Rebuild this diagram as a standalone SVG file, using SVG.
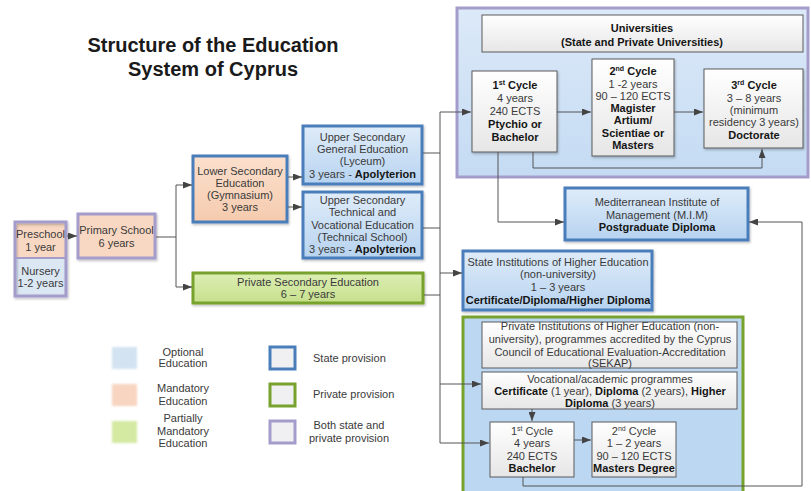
<svg xmlns="http://www.w3.org/2000/svg" width="811" height="491" viewBox="0 0 811 491">
<defs>
<style>
text{font-family:"Liberation Sans",Arial,sans-serif;font-size:11px;fill:#3a3a3a;text-anchor:middle}
.b{font-weight:bold;fill:#151515}
.title{font-size:20px;font-weight:bold;fill:#1a1a1a}
.l{text-anchor:start}
.state{stroke:#4a7ebb;stroke-width:3;fill:url(#gBlue)}
.peachS{stroke:#4a7ebb;stroke-width:3;fill:url(#gPeach)}
.purp{stroke:#a49ccb;stroke-width:3}
.white{stroke:#5a5a5a;stroke-width:1;fill:url(#gWhite)}
.conn path{fill:none;stroke:#555;stroke-width:1}
.arr{marker-end:url(#ah)}
.sh{filter:url(#ds)}
</style>
<linearGradient id="gBlue" x1="0" y1="0" x2="0" y2="1"><stop offset="0" stop-color="#dfecf9"/><stop offset="1" stop-color="#b7d3f0"/></linearGradient>
<linearGradient id="gPeach" x1="0" y1="0" x2="0" y2="1"><stop offset="0" stop-color="#fbe0cd"/><stop offset="1" stop-color="#f5cbae"/></linearGradient>
<linearGradient id="gGreen" x1="0" y1="0" x2="0" y2="1"><stop offset="0" stop-color="#ddeeb4"/><stop offset="1" stop-color="#c6e08c"/></linearGradient>
<linearGradient id="gWhite" x1="0" y1="0" x2="0" y2="1"><stop offset="0" stop-color="#ffffff"/><stop offset="1" stop-color="#e6e6e6"/></linearGradient>
<linearGradient id="gUni" x1="0" y1="0" x2="0" y2="1"><stop offset="0" stop-color="#dce9f8"/><stop offset="1" stop-color="#c4dbf3"/></linearGradient>
<filter id="ds" x="-10%" y="-10%" width="130%" height="130%"><feDropShadow dx="1" dy="1.5" stdDeviation="1.2" flood-color="#000" flood-opacity="0.25"/></filter>
<filter id="soft" x="-20%" y="-20%" width="140%" height="140%"><feGaussianBlur stdDeviation="0.8"/></filter>
<marker id="ah" markerUnits="userSpaceOnUse" markerWidth="9" markerHeight="7" refX="9" refY="3.5" orient="auto"><path d="M0,0 L9,3.5 L0,7 z" fill="#444"/></marker>
</defs>
<rect width="811" height="491" fill="#ffffff"/>

<g id="title">
<text class="title" x="213" y="52">Structure of the Education</text>
<text class="title" x="213" y="76">System of Cyprus</text>
</g>

<g id="universities">
<rect x="457" y="8" width="351" height="169" fill="url(#gUni)" class="purp"/>
<rect x="482" y="15" width="321" height="37" class="white"/>
<text class="b" x="642" y="32">Universities</text>
<text class="b" x="642" y="46">(State and Private Universities)</text>
</g>

<g id="uni-cycle1">
<rect x="472" y="71" width="85" height="81" class="white sh"/>
<text class="b" x="515" y="89">1<tspan font-size="7" dy="-4">st</tspan><tspan dy="4"> Cycle</tspan></text>
<text x="515" y="102">4 years</text>
<text x="515" y="115">240 ECTS</text>
<text class="b" x="515" y="127.5">Ptychio or</text>
<text class="b" x="515" y="140.5">Bachelor</text>
</g>

<g id="uni-cycle2">
<rect x="592" y="59" width="82" height="97" class="white sh"/>
<text class="b" x="633" y="75">2<tspan font-size="7" dy="-4">nd</tspan><tspan dy="4"> Cycle</tspan></text>
<text x="633" y="87.5">1 -2 years</text>
<text x="633" y="99.5">90 – 120 ECTS</text>
<text class="b" x="633" y="111.5">Magister</text>
<text class="b" x="633" y="124">Artium/</text>
<text class="b" x="633" y="136.5">Scientiae or</text>
<text class="b" x="633" y="149">Masters</text>
</g>

<g id="uni-cycle3">
<rect x="704" y="69" width="99" height="79" class="white sh"/>
<text class="b" x="754" y="89">3<tspan font-size="7" dy="-4">rd</tspan><tspan dy="4"> Cycle</tspan></text>
<text x="754" y="101.5">3 – 8 years</text>
<text x="754" y="113.5">(minimum</text>
<text x="754" y="126">residency 3 years)</text>
<text class="b" x="754" y="138.5">Doctorate</text>
</g>

<g id="mim">
<rect x="565" y="188" width="183" height="52" class="state sh"/>
<text x="657" y="206">Mediterranean Institute of</text>
<text x="657" y="218.5">Management (M.I.M)</text>
<text class="b" x="657" y="231">Postgraduate Diploma</text>
</g>

<g id="state-institutions">
<rect x="463" y="251" width="189" height="59" class="state sh"/>
<text x="558" y="266">State Institutions of Higher Education</text>
<text x="558" y="278">(non-university)</text>
<text x="558" y="291">1 – 3 years</text>
<text class="b" x="558" y="304">Certificate/Diploma/Higher Diploma</text>
</g>

<g id="private-higher">
<rect x="463" y="317" width="280" height="180" fill="#bcd7f2" stroke="#77a22d" stroke-width="3"/>
<rect x="482" y="322" width="255" height="46" class="white"/>
<text x="610" y="330">Private Institutions of Higher Education (non-</text>
<text x="610" y="343">university), programmes accredited by the Cyprus</text>
<text x="610" y="355.5">Council of Educational Evaluation-Accreditation</text>
<text x="610" y="367">(SEKAP)</text>
</g>

<g id="vocational">
<rect x="482" y="372" width="255" height="37" class="white"/>
<text x="610" y="383">Vocational/academic programmes</text>
<text x="610" y="395"><tspan class="b">Certificate</tspan> (1 year), <tspan class="b">Diploma</tspan> (2 years), <tspan class="b">Higher</tspan></text>
<text x="610" y="407"><tspan class="b">Diploma</tspan> (3 years)</text>
</g>

<g id="private-cycle1">
<rect x="490" y="422" width="84" height="55" class="white"/>
<text x="532" y="435">1<tspan font-size="7" dy="-4">st</tspan><tspan dy="4"> Cycle</tspan></text>
<text x="532" y="447">4 years</text>
<text x="532" y="460">240 ECTS</text>
<text class="b" x="532" y="472">Bachelor</text>
</g>

<g id="private-cycle2">
<rect x="592" y="422" width="84" height="55" class="white"/>
<text x="634" y="435">2<tspan font-size="7" dy="-4">nd</tspan><tspan dy="4"> Cycle</tspan></text>
<text x="634" y="447">1 – 2 years</text>
<text x="634" y="460">90 – 120 ECTS</text>
<text class="b" x="634" y="472">Masters Degree</text>
</g>

<g id="preschool-nursery">
<rect x="15" y="222" width="51" height="36" fill="#f9d8c3"/>
<rect x="15" y="258" width="51" height="38" fill="#dbe7f3"/>
<rect x="15" y="222" width="51" height="74" fill="none" class="purp sh"/>
<line x1="15" y1="258" x2="66" y2="258" stroke="#a49ccb" stroke-width="2"/>
<text x="40.5" y="238">Preschool</text>
<text x="40.5" y="251">1 year</text>
<text x="40.5" y="275">Nursery</text>
<text x="40.5" y="287">1-2 years</text>
</g>

<g id="primary">
<rect x="78" y="214" width="77" height="44" fill="#f9d8c3" class="purp sh"/>
<text x="116.5" y="234">Primary School</text>
<text x="116.5" y="247">6 years</text>
</g>

<g id="lower-secondary">
<rect x="193" y="156" width="94" height="66" class="peachS sh"/>
<text x="240" y="175">Lower Secondary</text>
<text x="240" y="187">Education</text>
<text x="240" y="199">(Gymnasium)</text>
<text x="240" y="211">3 years</text>
</g>

<g id="upper-general">
<rect x="303" y="126" width="119" height="58" class="state sh"/>
<text x="362.5" y="141">Upper Secondary</text>
<text x="362.5" y="153">General Education</text>
<text x="362.5" y="165">(Lyceum)</text>
<text x="362.5" y="178">3 years - <tspan class="b">Apolyterion</tspan></text>
</g>

<g id="upper-technical">
<rect x="303" y="192" width="119" height="66" class="state sh"/>
<text x="362.5" y="204">Upper Secondary</text>
<text x="362.5" y="216">Technical and</text>
<text x="362.5" y="229">Vocational Education</text>
<text x="362.5" y="241">(Technical School)</text>
<text x="362.5" y="253">3 years - <tspan class="b">Apolyterion</tspan></text>
</g>

<g id="private-secondary">
<rect x="193" y="273" width="230" height="30" fill="url(#gGreen)" stroke="#77a22d" stroke-width="3" class="sh"/>
<text x="308" y="286">Private Secondary Education</text>
<text x="308" y="298">6 – 7 years</text>
</g>

<g id="legend">
<rect x="112" y="347" width="25" height="22" fill="#d3e3f1" filter="url(#soft)"/>
<text x="183" y="355.5">Optional</text>
<text x="183" y="367">Education</text>
<rect x="112" y="384" width="25" height="22" fill="#f7d5c1" filter="url(#soft)"/>
<text x="183" y="392">Mandatory</text>
<text x="183" y="404.5">Education</text>
<rect x="112" y="421" width="25" height="22" fill="#d4eaa2" filter="url(#soft)"/>
<text x="183" y="422">Partially</text>
<text x="183" y="435">Mandatory</text>
<text x="183" y="447">Education</text>
<rect x="270" y="347" width="25" height="22" fill="#f0f0f2" stroke="#4a7ebb" stroke-width="3"/>
<text class="l" x="313" y="362">State provision</text>
<rect x="270" y="384" width="25" height="22" fill="#f0f0f2" stroke="#77a22d" stroke-width="3"/>
<text class="l" x="313" y="398">Private provision</text>
<rect x="270" y="421" width="25" height="22" fill="#f0f0f2" stroke="#a49ccb" stroke-width="3"/>
<text x="349" y="429">Both state and</text>
<text x="349" y="441.5">private provision</text>
</g>

<g id="connectors" class="conn">
<path class="arr" d="M67,236 H77"/>
<path d="M156,237 H176 M176,185 V287"/>
<path class="arr" d="M176,185 H192"/>
<path class="arr" d="M176,287 H192"/>
<path class="arr" d="M288,177 H302"/>
<path class="arr" d="M288,207 H302"/>
<path d="M423,153 H440 M423,228 H440 M424,295 H440 M440,112 V443"/>
<path class="arr" d="M440,112 H471"/>
<path class="arr" d="M440,273 H462"/>
<path class="arr" d="M440,384 H481"/>
<path class="arr" d="M440,443 H489"/>
<path class="arr" d="M557,112 H591"/>
<path class="arr" d="M674,112 H703"/>
<path class="arr" d="M533,152 V168 H762 V149"/>
<path class="arr" d="M498,152 V222 H564"/>
<path class="arr" d="M523,477 V486 H802 V222 H749"/>
<path class="arr" d="M532,409 V421"/>
<path class="arr" d="M574,440 H591"/>
</g>
</svg>
